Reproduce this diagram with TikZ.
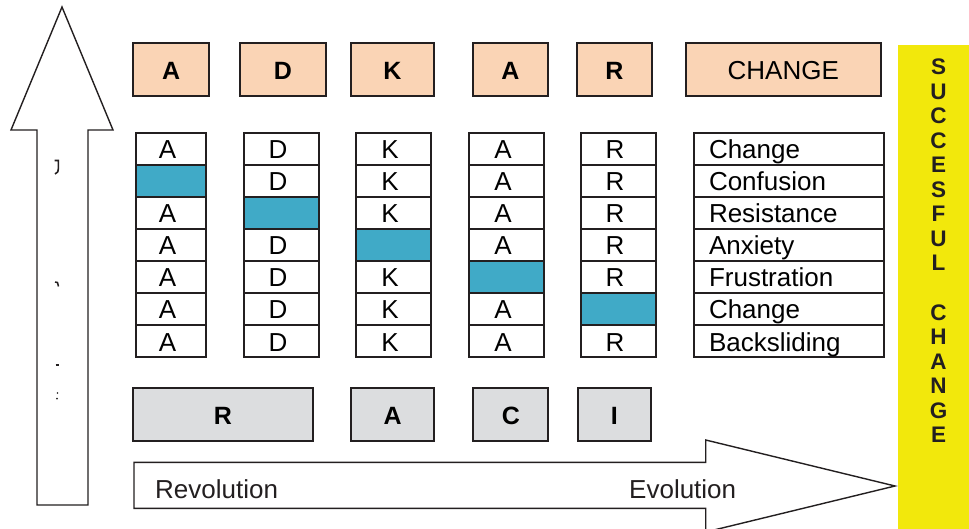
\documentclass[tikz,border=0pt]{standalone}
\usepackage{fontspec}
\setmainfont{Liberation Sans}
\definecolor{ink}{HTML}{231F20}
\definecolor{peach}{HTML}{FAD4B5}
\definecolor{footgray}{HTML}{DCDDDF}
\definecolor{hitblue}{HTML}{40AAC7}
\definecolor{baryellow}{HTML}{F2E80C}
\begin{document}
\begin{tikzpicture}[x=1pt,y=-1pt,
  hdr/.style={draw=ink, line width=2pt, fill=peach, minimum height=52.4pt,
    inner sep=0pt, text height=19.6pt, text depth=0pt,
    font=\fontsize{25}{25}\selectfont\bfseries},
  foot/.style={hdr, fill=footgray},
  cell/.style={draw=ink, line width=2.6pt, fill=white, minimum height=32pt,
    inner sep=0pt, text height=20pt, text depth=0pt,
    font=\fontsize{26}{26}\selectfont},
  lettercell/.style={cell, execute at begin node={\hspace*{-7pt}}},
  hitcell/.style={cell, fill=hitblue},
  labelcell/.style={cell, minimum width=190pt, inner xsep=15pt,
    text width=160pt, align=left},
  vletter/.style={inner sep=0pt, anchor=base,
    font=\fontsize{22.5}{22.5}\selectfont\bfseries, text=ink},
  bigarrow/.style={draw=ink, line width=1.4pt, fill=white, line join=miter},
  plain/.style={inner sep=0pt, anchor=base, font=\fontsize{26}{26}\selectfont, text=ink}]
\useasboundingbox (0,0) rectangle (969,529);

% upward arrow on the left
\draw[bigarrow] (62,7) -- (113,130) -- (88,130) -- (88,505) -- (37,505)
  -- (37,130) -- (11,130) -- cycle;
% stray marks inside the upward arrow
\draw[ink, line width=1.6pt] (54.5,160.5) -- (58.3,160.5) -- (58.3,169)
  .. controls (58.3,171.5) .. (55,174);
\draw[ink, line width=1.5pt] (55,282) -- (57.5,282.5) -- (58.5,286.5);
\draw[ink, line width=1.5pt] (55.5,365) -- (59,365);
\fill[ink] (57.5,393) circle (0.9);
\fill[ink] (57,398.5) circle (1);

% rightward arrow at the bottom
\draw[bigarrow] (134,462.3) -- (705.7,462.3) -- (705.7,440) -- (895,486)
  -- (705.7,532) -- (705.7,508.3) -- (134,508.3) -- cycle;
\node[plain, anchor=base west] (rev) at (155,498) {Revolution};
\node[plain, anchor=base west] (evo) at (629,498) {Evolution};

% header row
\node[hdr, minimum width=75.7pt] (hA1) at (171.2,69.5) {A};
\node[hdr, minimum width=86pt]   (hD)  at (283,69.5)   {D};
\node[hdr, minimum width=83.3pt] (hK)  at (392.3,69.5) {K};
\node[hdr, minimum width=75pt]   (hA2) at (510.5,69.5) {A};
\node[hdr, minimum width=74.4pt] (hR)  at (614.5,69.5) {R};
\node[hdr, minimum width=195.3pt, font=\fontsize{26}{26}\selectfont] (hC) at (783.3,69.5) {CHANGE};

% grid of stages, one shaded cell per column
\foreach \c/\x/\w/\l in {1/171/70/A, 2/281.5/75/D, 3/393.5/75/K, 4/506.5/75/A, 5/618.5/75/R} {
  \foreach \r in {1,...,7} {
    \pgfmathtruncatemacro\hit{\r==\c+1 ? 1 : 0}
    \ifnum\hit=1
      \node[hitcell, minimum width=\w pt] (g\c-\r) at (\x,{149+32*(\r-1)}) {};
    \else
      \node[lettercell, minimum width=\w pt] (g\c-\r) at (\x,{149+32*(\r-1)}) {\l};
    \fi
  }
}
\foreach \t [count=\r] in {Change, Confusion, Resistance, Anxiety, Frustration, Change, Backsliding} {
  \node[labelcell] (lab\r) at (789,{149+32*(\r-1)}) {\t};
}

% footer row
\node[foot, minimum width=179.4pt] (fR) at (223,414.5)   {R};
\node[foot, minimum width=83.5pt]  (fA) at (392.7,414.5) {A};
\node[foot, minimum width=75pt]    (fC) at (510.8,414.5) {C};
\node[foot, minimum width=73.3pt]  (fI) at (614.3,414.5) {I};

% vertical banner
\fill[baryellow] (897.7,45) rectangle (969,529);
\foreach \ch [count=\i from 0] in {S,U,C,C,E,S,F,U,L} {
  \node[vletter] (ya\i) at (938.5,{75+24.5*\i}) {\ch};
}
\foreach \ch [count=\i from 10] in {C,H,A,N,G,E} {
  \node[vletter] (yb\i) at (938.5,{75+24.5*\i}) {\ch};
}
\end{tikzpicture}
\end{document}
